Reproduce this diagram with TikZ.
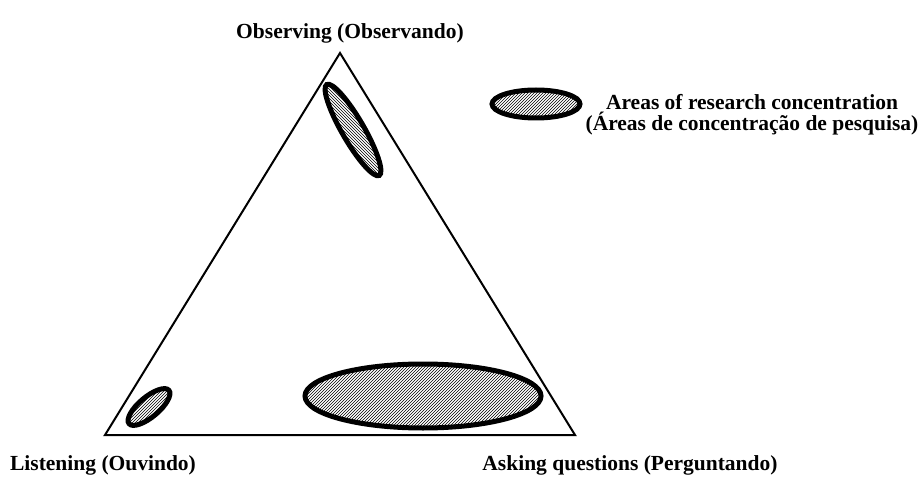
\documentclass[tikz,border=0pt]{standalone}
\usepackage{fontspec}
\setmainfont{Liberation Serif}
\usetikzlibrary{shapes.geometric,patterns}

\begin{document}
\begin{tikzpicture}[x=1pt,y=1pt,
area/.style={draw,ellipse,line width=5pt,pattern=north east lines,inner sep=0pt},
lbl/.style={font=\bfseries\fontsize{21.5}{21.5}\selectfont,anchor=base,inner sep=0pt}]
\useasboundingbox (0,0) rectangle (923,477);
% triangle corners
\coordinate (obs) at (340,424);
\coordinate (lis) at (105,42);
\coordinate (ask) at (575,42);
\draw[line width=2pt,line join=miter] (obs)--(ask)--(lis)--cycle;
% areas of research concentration
\node[area,pattern=north west lines,minimum width=105,minimum height=22,rotate=-60](obsarea) at (353,347){};
\node[area,minimum width=52,minimum height=20,rotate=40](lisarea) at (149,70){};
\node[area,minimum width=236,minimum height=64](askarea) at (423,81){};
% labels
\node[lbl](obslbl) at (350,438){Observing (Observando)};
\node[lbl](lislbl) at (103,7){Listening (Ouvindo)};
\node[lbl](asklbl) at (630,7){Asking questions (Perguntando)};
% legend
\node[area,minimum width=88,minimum height=28](key) at (536,373){};
\node[lbl,align=center](keylbl) at (752,346){Areas of research concentration\\(Áreas de concentração de pesquisa)};
\end{tikzpicture}
\end{document}
